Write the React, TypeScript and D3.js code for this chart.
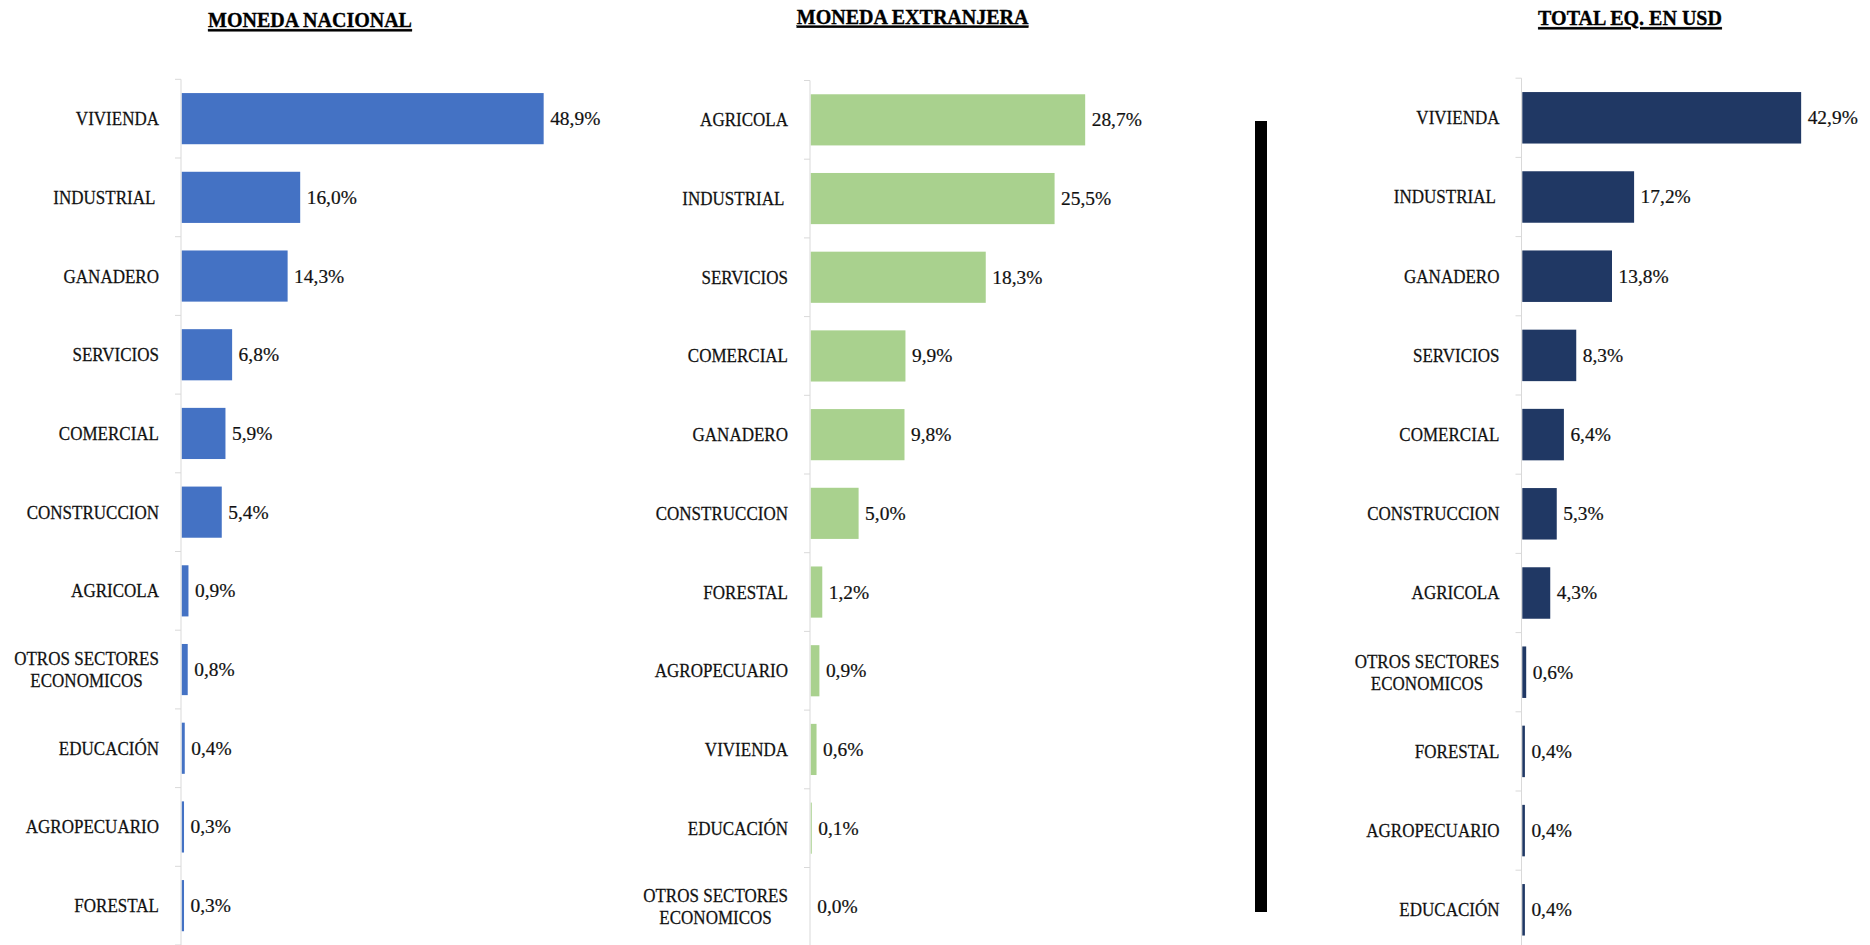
import React, { useRef, useEffect } from 'react';
import * as d3 from 'd3';

// sectores y participaciones (%)
const nacionalSectores = ["VIVIENDA", "INDUSTRIAL ", "GANADERO", "SERVICIOS", "COMERCIAL", "CONSTRUCCION", "AGRICOLA", "OTROS SECTORES ECONOMICOS", "EDUCACIÓN", "AGROPECUARIO", "FORESTAL"];
const nacionalValores = [48.9, 16.0, 14.3, 6.8, 5.9, 5.4, 0.9, 0.8, 0.4, 0.3, 0.3];

const extranjeraSectores = ["AGRICOLA", "INDUSTRIAL ", "SERVICIOS", "COMERCIAL", "GANADERO", "CONSTRUCCION", "FORESTAL", "AGROPECUARIO", "VIVIENDA", "EDUCACIÓN", "OTROS SECTORES ECONOMICOS"];
const extranjeraValores = [28.7, 25.5, 18.3, 9.9, 9.8, 5.0, 1.2, 0.9, 0.6, 0.1, 0.0];

const totalSectores = ["VIVIENDA", "INDUSTRIAL ", "GANADERO", "SERVICIOS", "COMERCIAL", "CONSTRUCCION", "AGRICOLA", "OTROS SECTORES ECONOMICOS", "FORESTAL", "AGROPECUARIO", "EDUCACIÓN"];
const totalValores = [42.9, 17.2, 13.8, 8.3, 6.4, 5.3, 4.3, 0.6, 0.4, 0.4, 0.4];

const titulos = ["MONEDA NACIONAL", "MONEDA EXTRANJERA", "TOTAL EQ. EN USD"];

const FONT = "'Liberation Serif', 'Times New Roman', serif";
const INK = "#111";

const fmt = (v) => d3.format(".1f")(v).replace(".", ",") + "%";

// break long labels into lines of ~15 chars
function wrap(label) {
  const words = label.trim().split(" ");
  if (label.trim().length <= 15) return [label];
  const lines = [];
  let cur = "";
  words.forEach(w => {
    if (cur && (cur + " " + w).length > 15) {
      lines.push(cur);
      cur = w;
    } else {
      cur = cur ? cur + " " + w : w;
    }
  });
  if (cur) lines.push(cur);
  return lines;
}

function drawPanel(svg, p) {
  const n = p.cats.length;
  const g = svg.append("g");

  const y = d3.scaleBand()
    .domain(p.cats)
    .range([p.top, p.top + p.step * n])
    .paddingInner(0.35)
    .paddingOuter(0.175);

  const x = d3.scaleLinear()
    .domain([0, p.xMax])
    .range([p.axisX + 0.8, p.axisX + 0.8 + p.xWidth]);

  // title
  g.append("text")
    .attr("transform", `translate(${p.titleX},${p.titleY}) scale(0.91,1)`)
    .attr("text-anchor", "middle")
    .attr("font-family", FONT)
    .attr("font-size", 22)
    .attr("font-weight", "bold")
    .attr("fill", "#000")
    .attr("stroke", "#000")
    .attr("stroke-width", 0.35)
    .style("text-decoration", "underline")
    .text(p.title);

  // category axis
  g.append("line")
    .attr("x1", p.axisX).attr("x2", p.axisX)
    .attr("y1", p.top).attr("y2", p.top + p.step * n)
    .attr("stroke", "#D9D9D9")
    .attr("stroke-width", 1);

  g.selectAll(".tick")
    .data(d3.range(n + 1))
    .enter().append("line")
    .attr("x1", p.axisX - 6).attr("x2", p.axisX)
    .attr("y1", i => p.top + i * p.step)
    .attr("y2", i => p.top + i * p.step)
    .attr("stroke", "#D9D9D9")
    .attr("stroke-width", 1);

  // bars
  g.selectAll(".bar")
    .data(p.vals)
    .enter().append("rect")
    .attr("x", x(0))
    .attr("y", (d, i) => y(p.cats[i]))
    .attr("width", d => x(d) - x(0))
    .attr("height", y.bandwidth())
    .attr("fill", p.color);

  // value labels
  g.selectAll(".val")
    .data(p.vals)
    .enter().append("text")
    .attr("transform", (d, i) => `translate(${x(d) + 6.5},${y(p.cats[i]) + y.bandwidth() / 2}) scale(1.08,1)`)
    .attr("dy", "0.36em")
    .attr("font-family", FONT)
    .attr("font-size", 18)
    .attr("fill", INK)
    .attr("stroke", INK)
    .attr("stroke-width", 0.2)
    .text(d => fmt(d));

  // category labels
  const labelRight = p.axisX - 22;
  const sx = 0.92;
  const fs = 18.5;
  p.cats.forEach((c, i) => {
    const cy = y(c) + y.bandwidth() / 2;
    const lines = wrap(c);
    if (lines.length === 1) {
      g.append("text")
        .attr("xml:space", "preserve")
        .attr("transform", `translate(${labelRight},${cy}) scale(${sx},1)`)
        .attr("text-anchor", "end")
        .attr("dy", "0.35em")
        .attr("font-family", FONT)
        .attr("font-size", fs)
        .attr("fill", INK)
        .attr("stroke", INK)
        .attr("stroke-width", 0.25)
        .text(c);
    } else {
      const lh = 22;
      const texts = lines.map(l => g.append("text")
        .attr("dy", "0.35em")
        .attr("font-family", FONT)
        .attr("font-size", fs)
        .attr("fill", INK)
        .attr("stroke", INK)
        .attr("stroke-width", 0.25)
        .attr("text-anchor", "middle")
        .text(l));
      const widest = d3.max(texts, t => t.node().getComputedTextLength()) * sx;
      const cx = labelRight - widest / 2;
      texts.forEach((t, k) => {
        const ly = cy + (k - (lines.length - 1) / 2) * lh;
        t.attr("transform", `translate(${cx},${ly}) scale(${sx},1)`);
      });
    }
  });
}

export default function App() {
  const svgRef = useRef(null);

  useEffect(() => {
    document.body.style.margin = "0";
    const svg = d3.select(svgRef.current);
    svg.selectAll("*").remove();

    const panels = [
      { title: titulos[0], cats: nacionalSectores, vals: nacionalValores, color: "#4472C4",
        axisX: 181, xMax: 60, xWidth: 444, top: 79.3, step: 78.7, titleX: 310, titleY: 27 },
      { title: titulos[1], cats: extranjeraSectores, vals: extranjeraValores, color: "#A9D18E",
        axisX: 810, xMax: 35, xWidth: 334.6, top: 80.5, step: 78.7, titleX: 912.6, titleY: 23.5 },
      { title: titulos[2], cats: totalSectores, vals: totalValores, color: "#203864",
        axisX: 1521.5, xMax: 50, xWidth: 325, top: 78.2, step: 79.2, titleX: 1630, titleY: 25 },
    ];

    panels.forEach(p => drawPanel(svg, p));

    // separator
    svg.append("rect")
      .attr("x", 1255).attr("y", 121)
      .attr("width", 12).attr("height", 791)
      .attr("fill", "#000");
  }, []);

  return (
    <svg ref={svgRef} width={1870} height={945}
      style={{ position: "absolute", left: 0, top: 0, background: "#fff", display: "block" }} />
  );
}
